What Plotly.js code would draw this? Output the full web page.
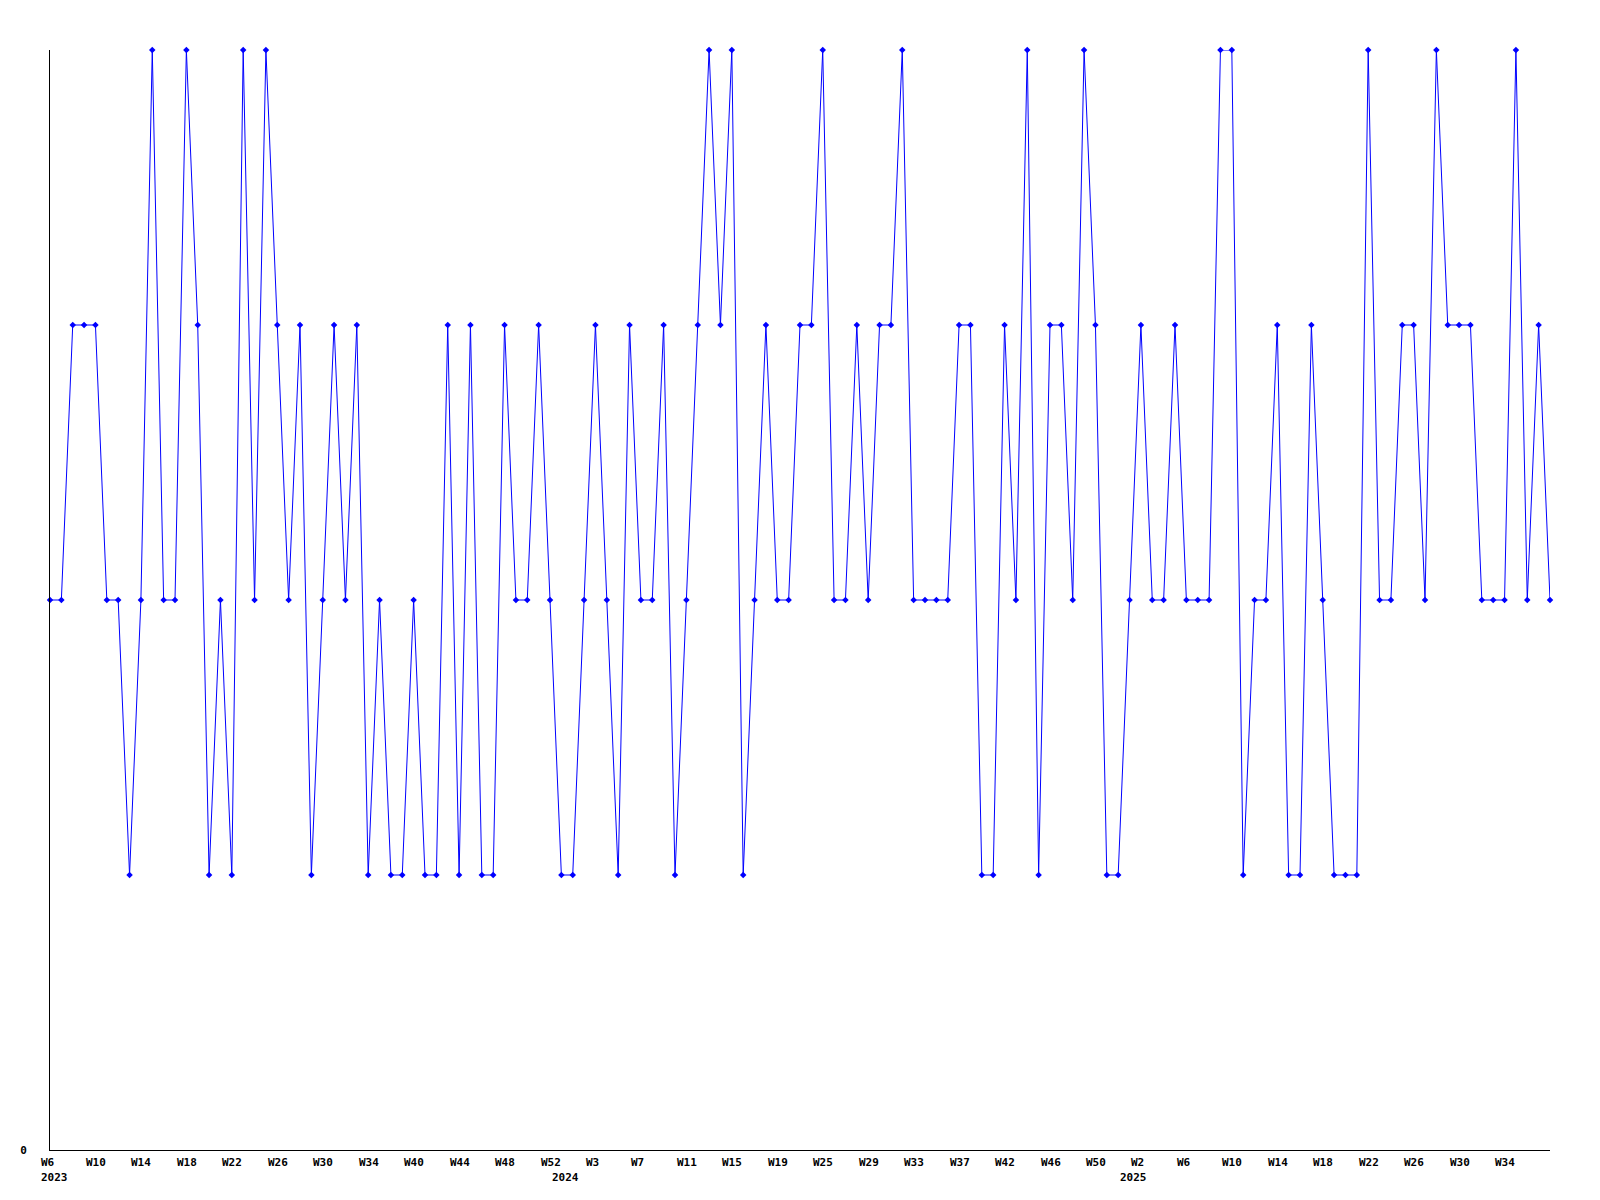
<!DOCTYPE html>
<html>
<head>
<meta charset="utf-8">
<script src="https://cdn.plot.ly/plotly-3.0.1.min.js"></script>
<style>
  html, body { margin: 0; padding: 0; background: #ffffff; }
  #chart { width: 1600px; height: 1200px; }
</style>
</head>
<body>
<div id="chart"></div>
<script>
// Weekly series values (level 1..4), one per week-point, in order
const values = [
  2, 2, 3, 3, 3, 2, 2, 1, 2, 4,
  2, 2, 4, 3, 1, 2, 1, 4, 2, 4,
  3, 2, 3, 1, 2, 3, 2, 3, 1, 2,
  1, 1, 2, 1, 1, 3, 1, 3, 1, 1,
  3, 2, 2, 3, 2, 1, 1, 2, 3, 2,
  1, 3, 2, 2, 3, 1, 2, 3, 4, 3,
  4, 1, 2, 3, 2, 2, 3, 3, 4, 2,
  2, 3, 2, 3, 3, 4, 2, 2, 2, 2,
  3, 3, 1, 1, 3, 2, 4, 1, 3, 3,
  2, 4, 3, 1, 1, 2, 3, 2, 2, 3,
  2, 2, 2, 4, 4, 1, 2, 2, 3, 1,
  1, 3, 2, 1, 1, 1, 4, 2, 2, 3,
  3, 2, 4, 3, 3, 3, 2, 2, 2, 4,
  2, 3, 2
];

// Week tick labels and the point index each one sits under
const weekTickIndex = [0, 4, 8, 12, 16, 20, 24, 28, 32, 36, 40, 44, 48, 52, 56, 60, 64,
                       68, 72, 76, 80, 84, 88, 92, 96, 100, 104, 108, 112, 116, 120, 124, 128];
const weekTickLabels = ["W6", "W10", "W14", "W18", "W22", "W26", "W30", "W34", "W40", "W44", "W48", "W52",
                        "W3", "W7", "W11", "W15", "W19", "W25", "W29", "W33", "W37", "W42", "W46", "W50",
                        "W2", "W6", "W10", "W14", "W18", "W22", "W26", "W30", "W34"];

// Year labels and the index of the first point of each year
const yearIndex = [0, 45, 95];
const yearLabels = ["2023", "2024", "2025"];

const xIdx = values.map((v, i) => i);

const FONT = "DejaVu Sans Mono, Liberation Mono, monospace";

const annotations = [];
weekTickIndex.forEach((xi, k) => {
  annotations.push({
    x: xi, xref: "x", y: 0, yref: "paper",
    text: "<b>" + weekTickLabels[k] + "</b>",
    showarrow: false, xanchor: "left", yanchor: "top",
    xshift: -10.5, yshift: -5, borderpad: 0,
    font: { family: FONT, size: 11, color: "#000000" }
  });
});
yearIndex.forEach((xi, k) => {
  annotations.push({
    x: xi, xref: "x", y: 0, yref: "paper",
    text: "<b>" + yearLabels[k] + "</b>",
    showarrow: false, xanchor: "left", yanchor: "top",
    xshift: -10.5, yshift: -20, borderpad: 0,
    font: { family: FONT, size: 11, color: "#000000" }
  });
});

const trace = {
  x: xIdx,
  y: values,
  type: "scatter",
  mode: "lines+markers",
  line: { color: "#0000ff", width: 1 },
  marker: { color: "#0000ff", size: 5, symbol: "diamond" },
  cliponaxis: false,
  hoverinfo: "skip"
};

const layout = {
  width: 1600,
  height: 1200,
  paper_bgcolor: "#ffffff",
  plot_bgcolor: "#ffffff",
  showlegend: false,
  margin: { l: 50, r: 50, t: 50, b: 50, pad: 0 },
  font: { family: FONT, size: 11, color: "#000000" },
  xaxis: {
    range: [0, values.length - 1],
    showgrid: false,
    zeroline: false,
    showline: true,
    linecolor: "#000000",
    linewidth: 1,
    showticklabels: false,
    ticks: "",
    fixedrange: true
  },
  yaxis: {
    range: [0, 4],
    showgrid: false,
    zeroline: false,
    showline: true,
    linecolor: "#000000",
    linewidth: 1,
    tickmode: "array",
    tickvals: [0],
    ticktext: ["<b>0</b>"],
    ticks: "",
    ticklabelstandoff: 20,
    tickfont: { family: FONT, size: 11, color: "#000000" },
    fixedrange: true
  },
  annotations: annotations
};

Plotly.newPlot("chart", [trace], layout, { staticPlot: true, displayModeBar: false });
</script>
</body>
</html>
